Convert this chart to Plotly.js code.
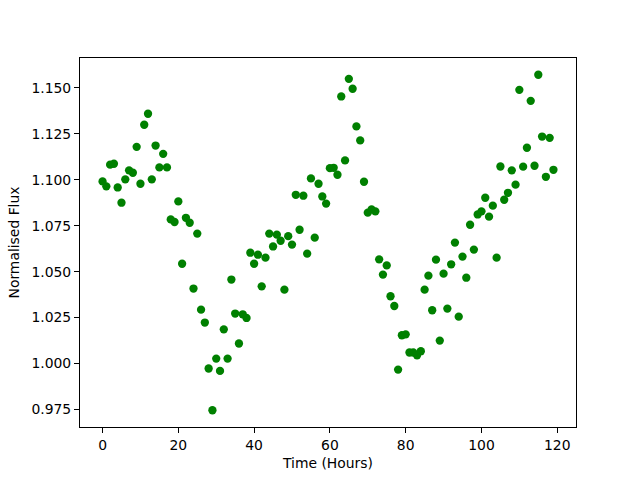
<!DOCTYPE html>
<html>
<head>
<meta charset="utf-8">
<script src="https://cdn.plot.ly/plotly-3.0.1.min.js"></script>
<style>html,body{margin:0;padding:0;background:#fff;}#chart{width:640px;height:480px;}</style>
</head>
<body>
<div id="chart"></div>
<script>
const hours = Array.from({length: 120}, (_, i) => i);
const flux = [
  1.0991, 1.0964, 1.1082, 1.1087, 1.0958, 1.0875, 1.1002, 1.1051, 1.1038, 1.1179,
  1.0978, 1.1299, 1.1359, 1.1002, 1.1186, 1.1067, 1.1141, 1.1067, 1.0784, 1.0770,
  1.0882, 1.0543, 1.0793, 1.0766, 1.0408, 1.0707, 1.0293, 1.0223, 0.9973, 0.9746,
  1.0027, 0.9960, 1.0186, 1.0027, 1.0457, 1.0272, 1.0109, 1.0268, 1.0248, 1.0603,
  1.0543, 1.0592, 1.0420, 1.0576, 1.0707, 1.0637, 1.0701, 1.0668, 1.0402, 1.0693,
  1.0647, 1.0918, 1.0728, 1.0913, 1.0598, 1.1007, 1.0685, 1.0978, 1.0909, 1.0870,
  1.1063, 1.1065, 1.1027, 1.1453, 1.1105, 1.1549, 1.1495, 1.1290, 1.1214, 1.0989,
  1.0821, 1.0839, 1.0828, 1.0567, 1.0484, 1.0534, 1.0366, 1.0313, 0.9967, 1.0154,
  1.0159, 1.0060, 1.0060, 1.0045, 1.0067, 1.0402, 1.0478, 1.0290, 1.0565, 1.0125,
  1.0489, 1.0299, 1.0540, 1.0658, 1.0255, 1.0582, 1.0467, 1.0755, 1.0620, 1.0811,
  1.0828, 1.0902, 1.0799, 1.0859, 1.0576, 1.1072, 1.0891, 1.0929, 1.1051, 1.0973,
  1.1489, 1.1071, 1.1174, 1.1429, 1.1076, 1.1571, 1.1235, 1.1016, 1.1228, 1.1054
];
const xTickVals = [0, 20, 40, 60, 80, 100, 120];
const yTickVals = [0.975, 1.000, 1.025, 1.050, 1.075, 1.100, 1.125, 1.150];

const font = {family: 'DejaVu Sans, sans-serif', size: 13.9, color: '#000'};

const trace = {
  x: hours, y: flux, type: 'scatter', mode: 'markers',
  marker: {color: '#008000', size: 8.3, line: {width: 0}},
  hoverinfo: 'none'
};

const xmin = Math.min(...hours), xmax = Math.max(...hours);
const ymin = Math.min(...flux), ymax = Math.max(...flux);
const xpad = (xmax - xmin) * 0.05, ypad = (ymax - ymin) * 0.05;

const layout = {
  width: 640, height: 480,
  margin: {l: 80, r: 64, t: 57.6, b: 52.8, pad: 0},
  paper_bgcolor: '#fff', plot_bgcolor: '#fff',
  showlegend: false,
  font: font,
  xaxis: {
    range: [xmin - xpad, xmax + xpad],
    tickmode: 'array', tickvals: xTickVals, ticktext: xTickVals.map(String),
    ticks: 'outside', ticklen: 4.9, tickwidth: 1.1, tickcolor: '#000',
    showline: true, linecolor: '#000', linewidth: 1.1, mirror: true,
    showgrid: false, zeroline: false, automargin: false,
    tickfont: font,
    title: {text: 'Time (Hours)', font: font, standoff: 6}
  },
  yaxis: {
    range: [ymin - ypad, ymax + ypad],
    tickmode: 'array', tickvals: yTickVals, ticktext: yTickVals.map(v => v.toFixed(3)),
    ticks: 'outside', ticklen: 4.9, tickwidth: 1.1, tickcolor: '#000',
    showline: true, linecolor: '#000', linewidth: 1.1, mirror: true,
    showgrid: false, zeroline: false, automargin: false,
    tickfont: font,
    title: {text: 'Normalised Flux', font: font, standoff: 8}
  }
};

Plotly.newPlot('chart', [trace], layout, {staticPlot: true, displayModeBar: false});
</script>
</body>
</html>
